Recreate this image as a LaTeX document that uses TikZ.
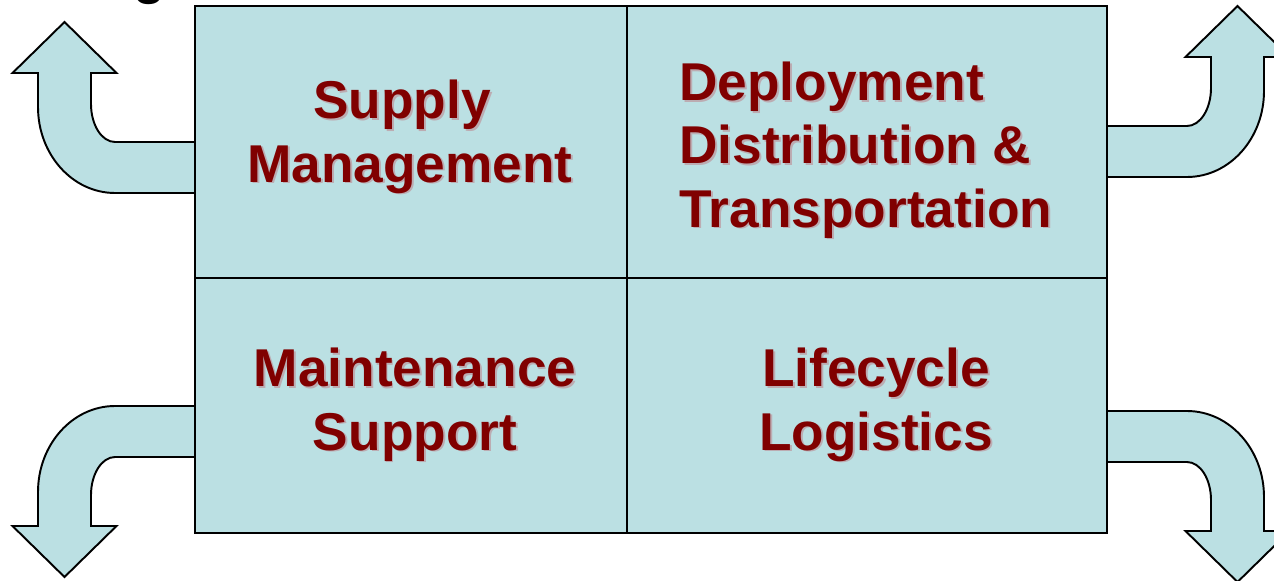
\documentclass[tikz,border=0pt]{standalone}
\usepackage{fontspec}
\setmainfont{Liberation Sans}
\definecolor{cellfill}{RGB}{187,224,227}
\definecolor{darkred}{RGB}{128,0,0}
\definecolor{shadowc}{RGB}{188,172,178}

\tikzset{
  outline/.style={draw=black, line width=1.1pt, fill=cellfill, line join=miter},
  lbl/.style={font=\bfseries\fontsize{30.3pt}{36pt}\selectfont, text=darkred,
              inner sep=0pt, anchor=base},
  lblsh/.style={lbl, text=shadowc, xshift=1.1pt, yshift=-1.1pt},
  bentarrow/.pic={
    \draw[outline] (157,120) -- (77,120)
      .. controls (34.5,120) and (0,81.5) .. (0,34) -- (0,0) -- (-25.5,0)
      -- (26.5,-51) -- (78.5,0) -- (53,0) -- (53,31)
      .. controls (53,52) and (63.8,69) .. (77,69) -- (157,69) -- cycle;
  }
}

% label with a soft drop shadow underneath; the anchor sits on the last baseline
\newcommand\celllabel[4]{%
  \node[lblsh, #3] (#1-shadow) at #2 {#4};
  \node[lbl, #3] (#1) at #2 {#4};}

\begin{document}
\begin{tikzpicture}[x=0.02cm, y=-0.02cm]
  \useasboundingbox (0,0) rectangle (1274,581);
  \clip (0,0) rectangle (1274,581);

  % tail of the heading above the chart
  \node[font=\bfseries\fontsize{30pt}{36pt}\selectfont, inner sep=0pt, anchor=base]
    (head) at (150,-6) {g};

  % four bent arrows leaving the chart
  \pic at (38,73) {bentarrow};
  \pic[xscale=-1] at (1264,57) {bentarrow};
  \pic[yscale=-1] at (38,526) {bentarrow};
  \pic[xscale=-1, yscale=-1] at (1264,531) {bentarrow};

  % the 2x2 chart
  \draw[outline] (195,6) rectangle (627,278);
  \draw[outline] (627,6) rectangle (1107,278);
  \draw[outline] (195,278) rectangle (627,533);
  \draw[outline] (627,278) rectangle (1107,533);

  \celllabel{supply}{(410,182)}{align=center}{Supply\kern9pt\\Management}
  \celllabel{deploy}{(679,227)}{align=left, anchor=base west}{Deployment\\Distribution \&\\Transportation}
  \celllabel{maint}{(415,450)}{align=center}{Maintenance\\Support}
  \celllabel{life}{(876,450)}{align=center}{Lifecycle\\Logistics}
\end{tikzpicture}
\end{document}
